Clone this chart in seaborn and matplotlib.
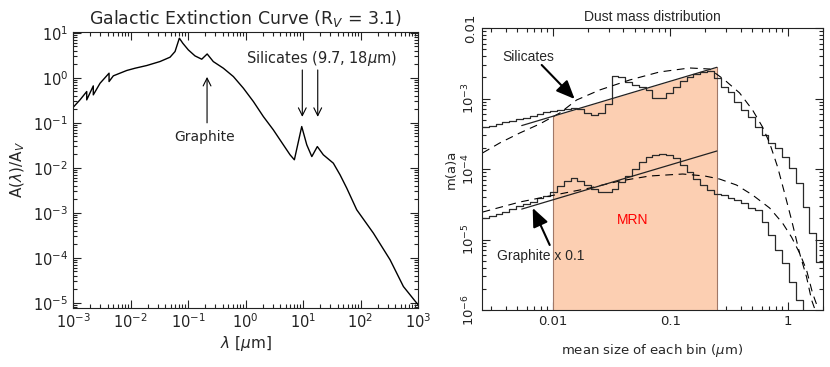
import numpy as np
import pandas as pd
import matplotlib
matplotlib.use("Agg")
import matplotlib.pyplot as plt
import seaborn as sns

# ---------------- left panel: galactic extinction curve ----------------
wave_um = [0.00101, 0.00132, 0.00173, 0.00173, 0.00225, 0.00225, 0.00295, 0.00423,
           0.00423, 0.00502, 0.00859, 0.0120, 0.0191, 0.0326, 0.0486, 0.0594, 0.0706,
           0.0809, 0.101, 0.132, 0.173, 0.215, 0.275, 0.411, 0.614, 0.916, 1.37, 2.04,
           3.04, 4.54, 5.94, 7.06, 9.48, 11.6, 14.2, 17.7, 22.5, 33.6, 44.0, 57.5,
           85.7, 167, 326, 556, 1000]
ext_ratio = [0.223, 0.324, 0.497, 0.324, 0.664, 0.419, 0.760, 1.27,
             0.828, 1.11, 1.46, 1.64, 1.88, 2.31, 2.88, 3.85, 7.62,
             5.90, 4.19, 3.08, 2.60, 3.40, 2.30, 1.64, 1.07, 0.590, 0.297, 0.138,
             0.0699, 0.0325, 0.0195, 0.0151, 0.0828, 0.0325, 0.0178, 0.0297, 0.0195,
             0.0127, 0.00699, 0.00354, 0.00117, 3.54e-4, 9.04e-5, 2.30e-5, 9.04e-6]

# ---------------- right panel: dust mass distribution ----------------
bin_edges = [0.0025, 0.002858, 0.003266, 0.003734, 0.004268, 0.004878, 0.005576,
             0.006374, 0.007286, 0.008328, 0.009519, 0.01088, 0.01244, 0.01422,
             0.01625, 0.01858, 0.02123, 0.02427, 0.02774, 0.03171, 0.03625,
             0.04143, 0.04736, 0.05414, 0.06188, 0.07073, 0.08085, 0.09242,
             0.1056, 0.1208, 0.1380, 0.1578, 0.1803, 0.2061, 0.2356, 0.2693,
             0.3079, 0.3519, 0.4023, 0.4598, 0.5256, 0.6008, 0.6867, 0.7849,
             0.8972, 1.026, 1.172, 1.340, 1.532, 1.751, 2.0]
sil_hist = [3.88e-4, 4.10e-4, 4.33e-4, 4.58e-4, 4.84e-4, 5.12e-4, 5.37e-4, 5.68e-4,
            6.01e-4, 6.35e-4, 6.65e-4, 6.87e-4, 7.09e-4, 7.34e-4, 7.09e-4, 6.22e-4,
            5.83e-4, 6.22e-4, 8.36e-4, 2.10e-3, 2.00e-3, 1.71e-3, 1.55e-3, 1.46e-3,
            1.32e-3, 1.02e-3, 1.02e-3, 1.20e-3, 1.46e-3, 1.77e-3, 2.02e-3, 2.23e-3,
            2.38e-3, 2.46e-3, 1.96e-3, 1.46e-3, 1.24e-3, 8.91e-4, 6.87e-4, 5.47e-4,
            3.94e-4, 3.03e-4, 2.34e-4, 1.99e-4, 1.48e-4, 1.03e-4, 6.33e-5, 2.89e-5,
            1.24e-5, 4.80e-6]
gra_hist = [2.02e-5, 2.15e-5, 2.30e-5, 2.45e-5, 2.71e-5, 2.99e-5, 3.19e-5, 3.40e-5,
            3.88e-5, 4.14e-5, 4.72e-5, 5.74e-5, 6.76e-5, 7.45e-5, 6.76e-5, 5.93e-5,
            5.20e-5, 4.72e-5, 4.72e-5, 5.20e-5, 6.54e-5, 7.96e-5, 1.00e-4, 1.26e-4,
            1.48e-4, 1.58e-4, 1.63e-4, 1.58e-4, 1.43e-4, 1.14e-4, 9.0e-5, 7.21e-5,
            5.93e-5, 5.04e-5, 4.43e-5, 4.28e-5, 3.88e-5, 3.63e-5, 3.30e-5, 2.80e-5,
            2.62e-5, 1.77e-5, 1.16e-5, 7.10e-6, 4.64e-6, 2.49e-6, 1.39e-6, 8e-7,
            6e-7, 5e-7]

# smooth model curves (dashed)
sil_model_a = [0.00253, 0.00354, 0.00524, 0.00775, 0.01148, 0.0160, 0.0251, 0.0452,
               0.0814, 0.1466, 0.217, 0.291, 0.390, 0.503, 0.612, 0.703, 0.822,
               0.942, 1.081, 1.264, 1.45, 1.60, 1.80]
sil_model = [1.69e-4, 2.34e-4, 3.24e-4, 4.35e-4, 6.22e-4, 9.53e-4, 1.32e-3, 1.83e-3,
             2.38e-3, 2.71e-3, 2.62e-3, 1.83e-3, 1.20e-3, 6.87e-4, 3.94e-4, 2.34e-4,
             1.07e-4, 4.57e-5, 1.89e-5, 6.44e-6, 2.94e-6, 1.39e-6, 8e-7]
gra_model_a = [0.00253, 0.00524, 0.0104, 0.0206, 0.0372, 0.0670, 0.128, 0.197, 0.263,
               0.367, 0.503, 0.703, 0.906, 1.081, 1.264, 1.45, 1.63, 1.80]
gra_model = [2.45e-5, 3.40e-5, 4.28e-5, 5.37e-5, 6.76e-5, 7.96e-5, 8.49e-5, 7.96e-5,
             7.21e-5, 5.93e-5, 4.28e-5, 2.80e-5, 1.71e-5, 1.08e-5, 6.44e-6, 3.69e-6,
             1.74e-6, 1.10e-6]

# MRN power laws (end points of the straight lines)
mrn_a = [0.00545, 0.25]
mrn_sil = [4.13e-4, 2.77e-3]
mrn_gra = [2.70e-5, 1.80e-4]
mrn_fill_a = [0.01, 0.25]
mrn_fill_top = [5.6e-4, 2.77e-3]

# ---------------- style ----------------
sns.set_style("ticks")
plt.rcParams["font.family"] = ["DejaVu Sans"]
plt.rcParams.update({
    "axes.linewidth": 0.8, "axes.edgecolor": "#222222",
    "xtick.color": "#222222", "ytick.color": "#222222",
})
sans = ["Liberation Sans", "DejaVu Sans"]


def idl_ticks(ax, xdec, ydec):
    # minor ticks at 2..9 x 10^k inside each decade, all ticks inward on 4 sides
    xs = [m * 10.0 ** k for k in range(*xdec) for m in range(2, 10)]
    ys = [m * 10.0 ** k for k in range(*ydec) for m in range(2, 10)]
    ax.set_xticks(xs, minor=True)
    ax.set_yticks(ys, minor=True)
    ax.tick_params(which="both", direction="in", top=True, right=True,
                   bottom=True, left=True, color="#222222")
    ax.tick_params(which="major", length=6, width=0.8)
    ax.tick_params(which="minor", length=3.2, width=0.8,
                   labelbottom=False, labelleft=False)


fig = plt.figure(figsize=(8.3, 3.67), dpi=100)
ax1 = fig.add_axes([0.088, 0.161, 0.4157, 0.752])
ax2 = fig.add_axes([0.5807, 0.1553, 0.4108, 0.7684])

# ---------- left ----------
ext = pd.DataFrame({"wave": wave_um, "ext": ext_ratio})
sns.lineplot(data=ext, x="wave", y="ext", sort=False, estimator=None,
             color="black", lw=1.0, ax=ax1)
ax1.set_xscale("log")
ax1.set_yscale("log")
ax1.set_xticks([1e-3, 1e-2, 1e-1, 1, 10, 100, 1000])
ax1.set_yticks([1e-5, 1e-4, 1e-3, 1e-2, 1e-1, 1, 10])
idl_ticks(ax1, (-3, 3), (-6, 1))
ax1.set_xlim(1e-3, 1e3)
ax1.set_ylim(7.7e-6, 10.5)
ax1.set_title("Galactic Extinction Curve (R$_V$ = 3.1)", fontsize=12.5, pad=6)
ax1.set_xlabel(r"$\lambda$ [$\mu$m]", fontsize=11, labelpad=2)
ax1.set_ylabel(r"A($\lambda$)/A$_V$", fontsize=11, labelpad=4)
ax1.tick_params(labelsize=10.5)

open_arrow = dict(arrowstyle="->", lw=0.8, color="black",
                  mutation_scale=14, shrinkA=0, shrinkB=0)
ax1.annotate("", xy=(0.214, 1.05), xytext=(0.214, 0.1), arrowprops=open_arrow)
ax1.text(0.19, 0.049, "Graphite", ha="center", va="center", fontsize=10)
for w in [9.7, 18]:
    ax1.annotate("", xy=(w, 0.136), xytext=(w, 1.5), arrowprops=open_arrow)
ax1.text(21.4, 2.64, r"Silicates (9.7, 18$\mu$m)", ha="center", va="center", fontsize=10.5)

# ---------- right ----------
ax2.set_xscale("log")
ax2.set_yscale("log")
ax2.fill_between(mrn_fill_a, [1e-6, 1e-6], mrn_fill_top, color="#fccfb2", lw=0, zorder=1)
for xa, top in zip(mrn_fill_a, mrn_fill_top):
    ax2.plot([xa, xa], [1e-6, top], color="#a07868", lw=0.8, zorder=1.5)

for vals in [sil_hist, gra_hist]:
    sns.lineplot(x=bin_edges, y=list(vals) + [vals[-1]], drawstyle="steps-post",
                 sort=False, estimator=None, color="#2a2a2a", lw=0.9, ax=ax2)
for xs, ys in [(sil_model_a, sil_model), (gra_model_a, gra_model)]:
    sns.lineplot(x=xs, y=ys, sort=False, estimator=None, color="black",
                 lw=0.8, ax=ax2, linestyle=(0, (7, 5)))
for ys in [mrn_sil, mrn_gra]:
    sns.lineplot(x=mrn_a, y=ys, sort=False, estimator=None, color="#222222",
                 lw=0.9, ax=ax2)

ax2.set_xticks([0.01, 0.1, 1], ["0.01", "0.1", "1"])
ax2.set_yticks([1e-6, 1e-5, 1e-4, 1e-3, 1e-2],
               [r"$10^{-6}$", r"$10^{-5}$", r"$10^{-4}$", r"$10^{-3}$", "0.01"])
idl_ticks(ax2, (-3, 1), (-6, -2))
ax2.set_xlim(0.0025, 2.0)
ax2.set_ylim(1e-6, 1e-2)
for lab in ax2.get_yticklabels():
    lab.set_rotation(90)
    lab.set_va("center")
ax2.tick_params(labelsize=9.5)
ax2.set_title("Dust mass distribution", fontsize=10, pad=5, family=sans)
ax2.set_xlabel(r"mean size of each bin ($\mu$m)", fontsize=9.5, labelpad=10)
ax2.set_ylabel("m(a)a", fontsize=9.5, labelpad=2)

arrow_kw = dict(arrowstyle="-|>,head_length=0.7,head_width=0.3", lw=1.5,
                color="black", mutation_scale=16, shrinkA=0, shrinkB=0)
ax2.annotate("", xy=(0.01538, 9.84e-4), xytext=(0.00806, 2.99e-3), arrowprops=arrow_kw)
ax2.text(0.00625, 3.9e-3, "Silicates", ha="center", va="center", fontsize=10, family=sans)
ax2.annotate("", xy=(0.00676, 2.8e-5), xytext=(0.00943, 8.36e-6), arrowprops=arrow_kw)
ax2.text(0.0079, 5.8e-6, "Graphite x 0.1", ha="center", va="center", fontsize=10, family=sans)
ax2.text(0.048, 1.89e-5, "MRN", ha="center", va="center", fontsize=10,
         color="red", family=sans)

fig.savefig("out.png", dpi=100)
